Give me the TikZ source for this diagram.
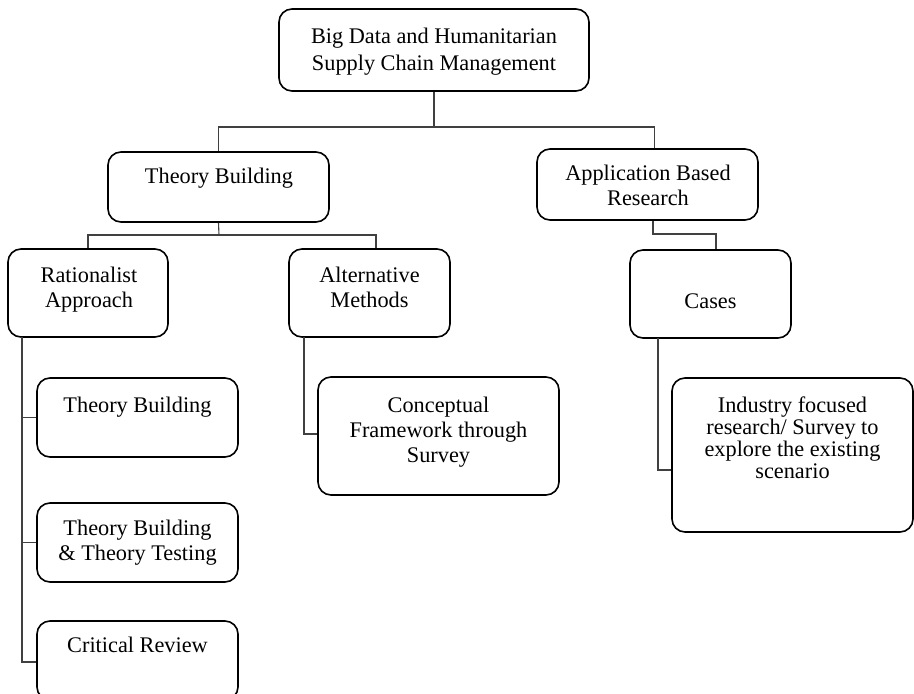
\documentclass[tikz,border=0pt]{standalone}
\usepackage{fontspec}
\setmainfont{Liberation Serif}

\begin{document}
\begin{tikzpicture}[
    x=1pt, y=-1pt,
    box/.style={rectangle, draw, rounded corners=13pt, line width=1.6pt, inner sep=0pt},
    txt/.style={align=center, inner sep=0pt, anchor=base, font=\fontsize{22.3}{25}\selectfont},
    conn/.style={draw=black!75, line width=1.1pt}
]
\useasboundingbox (0,0) rectangle (914,694);

% boxes
\node[box, minimum width=310pt, minimum height=82pt] (root) at (434,50) {};
\node[box, minimum width=221pt, minimum height=70pt] (theory) at (218.5,187) {};
\node[box, minimum width=221pt, minimum height=71pt] (appl) at (647.5,184.5) {};
\node[box, minimum width=160pt, minimum height=88pt] (ratio) at (88,293) {};
\node[box, minimum width=161pt, minimum height=88pt] (altern) at (369.5,293) {};
\node[box, minimum width=161pt, minimum height=88pt] (cases) at (710.5,294) {};
\node[box, minimum width=201pt, minimum height=79pt] (tbuild) at (137.5,417.5) {};
\node[box, minimum width=201pt, minimum height=79pt] (ttest) at (137.5,542.5) {};
\node[box, minimum width=201pt, minimum height=79pt] (review) at (137.5,660.5) {};
\node[box, minimum width=241pt, minimum height=118pt] (concept) at (438.5,436) {};
\node[box, minimum width=241pt, minimum height=154pt] (industry) at (792.5,455) {};

% labels (base = last line)
\node[txt, font=\fontsize{22.3}{27}\selectfont] (rootlbl) at (434,70) {Big Data and Humanitarian\\Supply Chain Management};
\node[txt] (theorylbl) at (219,183) {Theory Building};
\node[txt] (appllbl) at (648,205) {Application Based\\Research};
\node[txt] (ratiolbl) at (89,307) {Rationalist\\Approach};
\node[txt] (alternlbl) at (369.5,307) {Alternative\\Methods};
\node[txt] (caseslbl) at (710.5,308) {Cases};
\node[txt] (tbuildlbl) at (137.5,412) {Theory Building};
\node[txt] (ttestlbl) at (137.5,560) {Theory Building\\\& Theory Testing};
\node[txt] (reviewlbl) at (137.5,652) {Critical Review};
\node[txt] (conceptlbl) at (438.5,462) {Conceptual\\Framework through\\Survey};
\node[txt, font=\fontsize{22.3}{22}\selectfont] (industrylbl) at (792.5,478) {Industry focused\\research/ Survey to\\explore the existing\\scenario};

% joints
\coordinate (j1) at (434,127);
\coordinate (j2) at (219,235);
\coordinate (j3) at (653,234);
\coordinate (r0) at (22,337);
\coordinate (a0) at (304,337);
\coordinate (c0) at (658,338);

% connectors
\draw[conn] (root.south) -- (j1);
\draw[conn] (theory.north) |- (j1) -| ([xshift=7pt]appl.north);
\draw[conn] (theory.south) -- (j2);
\draw[conn] (ratio.north) |- (j2) -| ([xshift=6.5pt]altern.north);
\draw[conn] ([xshift=5.5pt]appl.south) -- (j3) -| ([xshift=5.5pt]cases.north);
\draw[conn] (r0) |- (tbuild.west);
\draw[conn] (r0) |- (ttest.west);
\draw[conn] (r0) |- ([yshift=-1.5pt]review.west);
\draw[conn] (a0) |- ([yshift=2pt]concept.west);
\draw[conn] (c0) |- ([yshift=-15pt]industry.west);
\end{tikzpicture}
\end{document}
